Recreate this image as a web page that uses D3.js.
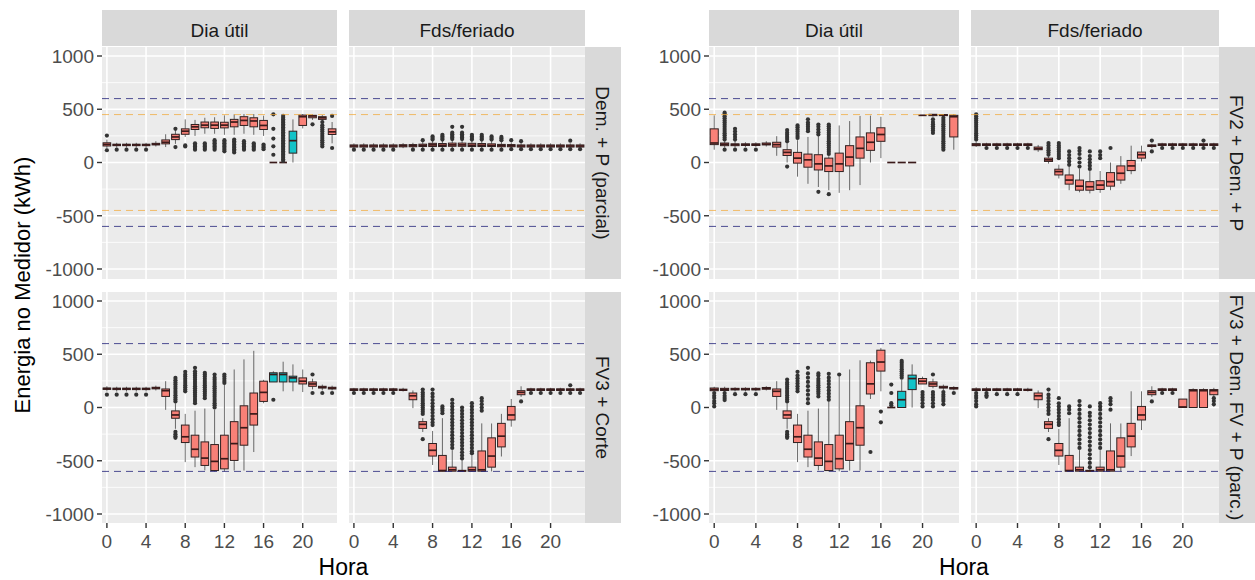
<!DOCTYPE html>
<html><head><meta charset="utf-8">
<script src="https://cdn.jsdelivr.net/npm/d3@7"></script>
<style>body{margin:0;background:#fff} svg{display:block} text{font-family:"Liberation Sans",Arial,sans-serif}</style>
</head><body><svg id="c" width="1255" height="580"></svg>
<script>
// ---------- categories / ticks ----------
const hours = [0,1,2,3,4,5,6,7,8,9,10,11,12,13,14,15,16,17,18,19,20,21,22,23];
const xTicks = [0,4,8,12,16,20];
const yTicks = [-1000,-500,0,500,1000];
const yMinor = [-750,-250,250,750];
const colLabels = ["Dia útil","Fds/feriado"];
const rowLabelsLeft = ["Dem. + P (parcial)","FV3 + Corte"];
const rowLabelsRight = ["FV2 + Dem. + P","FV3 + Dem. FV + P (parc.)"];
const limitsBlue = [600,-600];
const limitsOrange = [450,-450];

// ---------- box stats per hour: [lower whisker, q1, median, q3, upper whisker] ----------
// Left figure, row "Dem. + P (parcial)", Dia útil
const statUtilDemP = [[130,155,170,185,215],[140,158,165,172,185],[140,158,165,172,185],[140,158,165,172,185],[140,158,165,172,185],[150,165,172,180,200],[145,175,190,212,265],[175,215,240,265,300],[240,265,294,316,405],[250,310,335,357,400],[270,326,351,380,420],[270,320,351,380,425],[260,325,351,378,443],[260,335,380,405,452],[270,348,395,430,455],[260,335,390,420,455],[250,310,348,395,440],[0,0,0,0,0],[0,0,0,0,0],[0,88,205,294,405],[320,348,430,445,455],[400,420,437,443,452],[370,405,420,430,445],[180,263,288,316,380]];
const outUtilDemP = [[253,115],[120],[120],[120],[120],[],[],[316,145],[150,160],[120,135,150,165,180],[120,135,150,165,180],[120,135,150,165,180,195,210],[105,120,135,150,165,180,195,210],[95,110,125,140,155,170,185,200,215],[120,135,150,165,180,200],[120,135,150,165,180],[125,140,155,168],[452,316,225,152,73],[15,30,45,60,75,90,105,120,135,150,165,180,195,210,225,240,255,270,285,300,315,330,345,360,375,390,405,420,437],[],[],[358],[150,170,190,210,230,250,270,290,310,330,350,380],[437,136]];
const tealUtilDemP = [19];
// Left figure, row "Dem. + P (parcial)", Fds/feriado
const statFdsDemP = [[130,145,155,165,180],[130,145,155,165,180],[130,145,155,165,180],[130,145,155,165,180],[130,145,155,165,180],[135,147,157,167,182],[135,148,158,168,185],[135,150,160,172,195],[130,150,165,180,205],[130,150,162,178,205],[130,152,165,182,210],[130,152,165,182,210],[130,150,162,180,205],[130,150,162,178,200],[130,150,160,175,200],[130,148,158,170,195],[130,148,158,168,190],[130,145,155,165,185],[130,145,155,165,180],[130,145,155,165,180],[130,145,155,165,180],[130,145,155,165,180],[130,145,155,165,180],[130,145,155,165,180]];
const outFdsDemP = [[120],[120],[120],[120],[120],[],[120],[120,210],[120,215,230,245],[120,215,230,245,260],[120,220,235,250,265,280,335],[120,220,235,250,265,280,335],[120,215,230,245,260],[120,215,230,245,260],[120,215,230,245],[120,210,225,240],[125,210],[125,200],[125],[125],[125],[125],[125,205],[125]];
const tealFdsDemP = [];
// Left figure, row "FV3 + Corte", Dia útil
const statUtilCorte = [[150,170,177,183,200],[150,168,175,182,195],[150,168,175,182,195],[150,168,175,182,195],[150,168,175,182,195],[160,175,183,190,205],[-22,104,158,174,247],[-200,-101,-70,-32,40],[-513,-329,-275,-165,-60],[-560,-465,-392,-260,-30],[-590,-544,-475,-323,-10],[-600,-592,-506,-348,-20],[-600,-576,-481,-260,215],[-592,-497,-339,-133,357],[-592,-354,-190,16,452],[-418,-165,-60,136,532],[40,57,142,247,260],[240,240,310,326,340],[152,240,310,326,430],[152,240,278,294,405],[145,221,247,278,357],[170,199,221,240,270],[160,183,190,199,215],[160,174,182,190,205]];
const outUtilCorte = [[120],[120],[120],[120],[120],[],[],[57,75,95,115,135,155,175,195,215,235,255,278,-228,-250,-270,-285],[152,170,190,210,230,250,270,290,310,335],[41,60,80,100,120,140,160,180,200,220,240,260,280,300,320,340,373],[88,110,130,150,170,190,210,230,250,270,290,310,326],[0,20,40,60,80,100,120,140,160,180,200,220,240,260,280,310],[231,250,270,290,310],[],[],[],[],[73],[],[],[],[310,136],[136],[136]];
const tealUtilCorte = [17,18,19];
// Left figure, row "FV3 + Corte", Fds/feriado
const statFdsCorte = [[145,160,168,175,185],[145,160,168,175,185],[145,160,168,175,185],[145,160,168,175,185],[145,160,168,175,185],[150,160,165,172,185],[-6,73,110,136,160],[-230,-196,-158,-133,-100],[-540,-456,-402,-338,-220],[-600,-598,-592,-450,-100],[-600,-598,-585,-560,-400],[-600,-598,-595,-590,-500],[-600,-598,-585,-560,-450],[-600,-598,-585,-408,-149],[-600,-560,-456,-285,-150],[-460,-370,-269,-149,-60],[-180,-117,-70,10,80],[100,120,142,158,199],[145,160,168,175,185],[145,160,168,175,185],[145,160,168,175,185],[145,160,168,175,185],[145,160,168,175,185],[145,160,168,175,185]];
const outFdsCorte = [[136],[136],[136],[136],[136],[],[],[-60,-40,-20,0,20,40,60,80,100,120,140,168,-297],[-165,-140,-110,-80,-50,-20,10,40,70,100,130,168],[-54,-30,-10,10],[-380,-350,-320,-290,-260,-230,-200,-170,-140,-110,-80,-50,-20,10,40,73],[0,-30,-60,-90,-120,-150,-180,-210,-240,-270,-300,-330,-360,-390,-420,-450,-480],[41,10,-20,-50,-80,-110,-140,-170,-200,-230,-260,-290,-320,-350,-380,-410,-430],[88,60,30,0,-30],[],[],[],[57],[136],[136],[136],[136],[136,209],[136]];
const tealFdsCorte = [];
// Right figure, row "FV2 + Dem. + P", Dia útil
const statUtilFv2 = [[120,168,183,316,443],[140,158,172,183,199],[140,158,168,175,199],[145,160,168,175,190],[145,160,168,175,190],[150,165,172,183,200],[63,145,168,190,247],[0,66,95,120,180],[-133,-6,41,95,210],[-200,-44,25,79,240],[-230,-70,-13,73,250],[-260,-85,-32,41,60],[-285,-85,-13,88,348],[-260,-32,51,158,389],[-212,41,133,240,437],[0,114,190,278,440],[41,199,263,326,430],[0,0,0,0,0],[0,0,0,0,0],[0,0,0,0,0],[443,443,443,443,443],[430,440,448,452,455],[430,440,445,450,455],[120,240,430,443,455]];
const outUtilFv2 = [[],[120,215,235,255,275,295,315,335,355,375,395,415,435,455,468],[120,215,240,265,290,316],[120],[120],[],[],[199,220,240,260,280,304,-38],[231,250,270,290,310,330,348],[294,315,335,355,375,405],[263,285,310,335,357,-275],[80,100,120,140,160,180,200,220,240,260,280,300,320,340,357,-297],[],[],[],[],[],[],[],[],[],[278,300,320,340,360,380,405],[120,140,160,180,200,220,240,260,280,300,320,340,360,380,400,420],[]];
const tealUtilFv2 = [];
// Right figure, row "FV2 + Dem. + P", Fds/feriado
const statFdsFv2 = [[145,158,165,177,195],[145,160,168,175,185],[145,160,168,175,185],[145,160,168,175,185],[145,160,168,175,185],[145,160,168,175,185],[100,120,130,145,165],[-10,10,25,41,65],[-150,-117,-85,-63,-20],[-260,-203,-165,-117,-40],[-280,-260,-222,-165,-60],[-290,-260,-228,-180,-80],[-285,-253,-212,-171,-80],[-260,-222,-180,-95,0],[-200,-165,-101,-32,60],[-110,-76,-32,19,158],[10,41,73,98,158],[135,150,158,165,175],[145,160,168,175,185],[145,160,168,175,185],[145,160,168,175,185],[145,160,168,175,185],[145,160,168,175,185],[145,160,168,175,185]];
const outFdsFv2 = [[215,235,255,275,295,315,335,355,375,395,415,435,452],[136],[136],[136],[136],[136],[],[73,95,115,135,160,183],[41,60,80,100,120,140,160,183],[-22,10,40,70,104],[-38,0,40,80,110,136],[-60,-30,0,30,60,104],[41,70,104],[136],[],[],[],[206,104],[136],[136],[136],[136],[136,206],[136]];
const tealFdsFv2 = [];
// Right figure, row "FV3 + Dem. FV + P (parc.)", Dia útil
const statUtilFv3 = [[150,158,170,183,195],[145,160,170,180,195],[150,165,172,180,190],[150,165,172,180,190],[150,165,172,180,190],[160,172,180,188,200],[-22,104,152,174,247],[-200,-101,-70,-32,40],[-513,-329,-275,-165,-60],[-560,-465,-392,-260,-30],[-590,-544,-475,-323,-10],[-600,-592,-506,-348,60],[-600,-576,-481,-260,304],[-592,-497,-339,-133,357],[-592,-354,-190,16,443],[80,127,222,420,440],[152,342,427,538,560],[0,0,0,0,0],[0,0,73,152,260],[0,168,272,304,405],[221,221,247,272,290],[180,199,221,240,270],[160,183,190,199,215],[160,174,180,188,200]];
const outUtilFv3 = [[136,110,90,60,40,10],[136,110,90,70],[125],[125],[125],[],[],[57,75,95,115,135,155,175,195,215,235,263,-228,-250,-270,-285],[152,175,200,225,250,275,300,335],[41,80,120,160,200,240,280,320,373],[104,130,150,170,190,210,230,250,270,300,320],[73,100,130,160,190,220,250,280,316],[310],[],[],[-418],[-38,-139],[215,136,41,20],[280,300,320,340,360,380,400,420,437],[],[145,120,95,70,40,10],[310,145,120,95,70,40,10],[145,120,100,80,60,30],[136]];
const tealUtilFv3 = [18,19];
// Right figure, row "FV3 + Dem. FV + P (parc.)", Fds/feriado
const statFdsFv3 = [[150,160,168,175,190],[150,160,168,175,190],[150,160,168,175,185],[150,160,168,175,185],[150,160,168,175,185],[150,160,165,172,185],[-6,73,110,136,160],[-230,-196,-158,-133,-100],[-540,-456,-402,-338,-200],[-600,-598,-592,-450,-100],[-600,-598,-585,-560,-400],[-600,-598,-595,-590,-550],[-600,-598,-585,-560,-400],[-600,-598,-585,-408,-149],[-600,-560,-456,-285,-150],[-456,-370,-269,-149,152],[-212,-117,-70,10,152],[100,120,142,158,199],[145,160,168,175,185],[145,160,168,175,185],[0,0,5,79,80],[0,0,158,168,180],[0,0,158,168,180],[10,120,158,168,185]];
const outFdsFv3 = [[136,110,90,60,30,10],[136,115,100],[125],[125],[125],[],[],[-60,-30,0,30,60,90,120,168,-297],[-165,-140,-110,-80,-50,-20,10,40,88],[-54,-20,10],[-380,-340,-300,-260,-220,-180,-140,-100,-60,-20,20,60],[10,-50,-80,-120,-160,-200,-240,-280,-320,-360,-400,-440,-480,-520,-560],[41,10,-20,-60,-100,-140,-180,-220,-260,-300,-340,-380],[88,60,30,-20],[],[],[],[57],[136],[136],[],[],[],[88,60,30]];
const tealFdsFv3 = [];

// ---------- layout ----------
const figs = [
  {cols:[[102,337],[349,585]], strip:[585,621], rowLabels:rowLabelsLeft,
   data:[[[statUtilDemP,outUtilDemP,tealUtilDemP],[statFdsDemP,outFdsDemP,tealFdsDemP]],
         [[statUtilCorte,outUtilCorte,tealUtilCorte],[statFdsCorte,outFdsCorte,tealFdsCorte]]]},
  {cols:[[709,959],[971,1219]], strip:[1219,1255], rowLabels:rowLabelsRight,
   data:[[[statUtilFv2,outUtilFv2,tealUtilFv2],[statFdsFv2,outFdsFv2,tealFdsFv2]],
         [[statUtilFv3,outUtilFv3,tealUtilFv3],[statFdsFv3,outFdsFv3,tealFdsFv3]]]}
];
const rowsGeo = [{top:47,bottom:279,yr:[269,56],orange:true},{top:292,bottom:523,yr:[514,301],orange:false}];
const stripTop = [10,46];

const svg = d3.select("#c");
const defs = svg.append("defs");
let cid = 0;
const RED = "#F8766D", TEAL = "#00BFC4";

figs.forEach((f) => {
  rowsGeo.forEach((rg, r) => {
    f.cols.forEach(([x0,x1], c) => {
      const [stats, outs, teal] = f.data[r][c];
      const x = d3.scaleLinear().domain([-0.5,23.5]).range([x0,x1]);
      const y = d3.scaleLinear().domain([-1000,1000]).range(rg.yr);
      svg.append("rect").attr("x",x0).attr("y",rg.top).attr("width",x1-x0).attr("height",rg.bottom-rg.top).attr("fill","#EBEBEB");
      const id = "clip"+(cid++);
      defs.append("clipPath").attr("id",id).append("rect").attr("x",x0).attr("y",rg.top).attr("width",x1-x0).attr("height",rg.bottom-rg.top);
      const g = svg.append("g").attr("clip-path",`url(#${id})`);
      g.selectAll(".mi").data(yMinor).join("line").attr("x1",x0).attr("x2",x1).attr("y1",d=>y(d)).attr("y2",d=>y(d)).attr("stroke","#fff").attr("stroke-width",0.8);
      g.selectAll(".ma").data(yTicks).join("line").attr("x1",x0).attr("x2",x1).attr("y1",d=>y(d)).attr("y2",d=>y(d)).attr("stroke","#fff").attr("stroke-width",1.6);
      g.selectAll(".mx").data(xTicks).join("line").attr("y1",rg.top).attr("y2",rg.bottom).attr("x1",d=>x(d)).attr("x2",d=>x(d)).attr("stroke","#fff").attr("stroke-width",1.6);
      const bw = (x(1)-x(0))*0.78;
      stats.forEach((s,i) => {
        const h = hours[i];
        const [lo,q1,med,q3,hi] = s;
        const cx = x(h);
        const col = teal.includes(h) ? TEAL : RED;
        g.append("line").attr("x1",cx).attr("x2",cx).attr("y1",y(hi)).attr("y2",y(q3)).attr("stroke","#333").attr("stroke-opacity",0.8).attr("stroke-width",0.9);
        g.append("line").attr("x1",cx).attr("x2",cx).attr("y1",y(q1)).attr("y2",y(lo)).attr("stroke","#333").attr("stroke-opacity",0.8).attr("stroke-width",0.9);
        g.append("rect").attr("x",cx-bw/2).attr("width",bw).attr("y",y(q3)).attr("height",Math.max(0,y(q1)-y(q3)))
          .attr("fill",col).attr("fill-opacity",0.92).attr("stroke","#2e2020").attr("stroke-width",1);
        g.append("line").attr("x1",cx-bw/2).attr("x2",cx+bw/2).attr("y1",y(med)).attr("y2",y(med)).attr("stroke","#3a1a1a").attr("stroke-width",1.7);
        outs[i].forEach(v => g.append("circle").attr("cx",cx).attr("cy",y(v)).attr("r",2.1).attr("fill","#333"));
      });
      limitsBlue.forEach(v => g.append("line").attr("x1",x0).attr("x2",x1).attr("y1",y(v)).attr("y2",y(v))
        .attr("stroke","#23237a").attr("stroke-opacity",0.8).attr("stroke-width",1).attr("stroke-dasharray","7,5"));
      if (rg.orange) limitsOrange.forEach(v => g.append("line").attr("x1",x0).attr("x2",x1).attr("y1",y(v)).attr("y2",y(v))
        .attr("stroke","#F2A93B").attr("stroke-opacity",0.75).attr("stroke-width",1).attr("stroke-dasharray","7,5"));
      // y axis
      if (c === 0) {
        yTicks.forEach(t => {
          svg.append("line").attr("x1",x0-5).attr("x2",x0).attr("y1",y(t)).attr("y2",y(t)).attr("stroke","#333").attr("stroke-width",1.4);
          svg.append("text").attr("x",x0-8).attr("y",y(t)).attr("dy","0.36em").attr("text-anchor","end")
            .attr("font-size",19).attr("fill","#4D4D4D").text(t);
        });
      }
      // x axis
      if (r === 1) {
        xTicks.forEach(t => {
          svg.append("line").attr("x1",x(t)).attr("x2",x(t)).attr("y1",rg.bottom).attr("y2",rg.bottom+5).attr("stroke","#333").attr("stroke-width",1.4);
          svg.append("text").attr("x",x(t)).attr("y",rg.bottom+25).attr("text-anchor","middle")
            .attr("font-size",19).attr("fill","#4D4D4D").text(t);
        });
      }
    });
    // right strip
    const [s0,s1] = f.strip;
    svg.append("rect").attr("x",s0).attr("y",rg.top).attr("width",s1-s0).attr("height",rg.bottom-rg.top).attr("fill","#D9D9D9");
    svg.append("text").attr("transform",`translate(${(s0+s1)/2},${(rg.top+rg.bottom)/2}) rotate(90)`)
      .attr("text-anchor","middle").attr("dy","0.35em").attr("font-size",19).attr("fill","#1A1A1A").text(f.rowLabels[r]);
  });
  // top strips
  f.cols.forEach(([x0,x1], c) => {
    svg.append("rect").attr("x",x0).attr("y",stripTop[0]).attr("width",x1-x0).attr("height",stripTop[1]-stripTop[0]).attr("fill","#D9D9D9");
    svg.append("text").attr("x",(x0+x1)/2).attr("y",36.5).attr("text-anchor","middle").attr("font-size",19).attr("fill","#1A1A1A").text(colLabels[c]);
  });
  // x title
  svg.append("text").attr("x",(f.cols[0][0]+f.cols[1][1])/2).attr("y",575).attr("text-anchor","middle").attr("font-size",23).attr("fill","#000").text("Hora");
});
// y title
svg.append("text").attr("transform","translate(22,285) rotate(-90)").attr("text-anchor","middle").attr("dy","0.35em")
  .attr("font-size",22).attr("fill","#000").text("Energia no Medidor (kWh)");
</script></body></html>
